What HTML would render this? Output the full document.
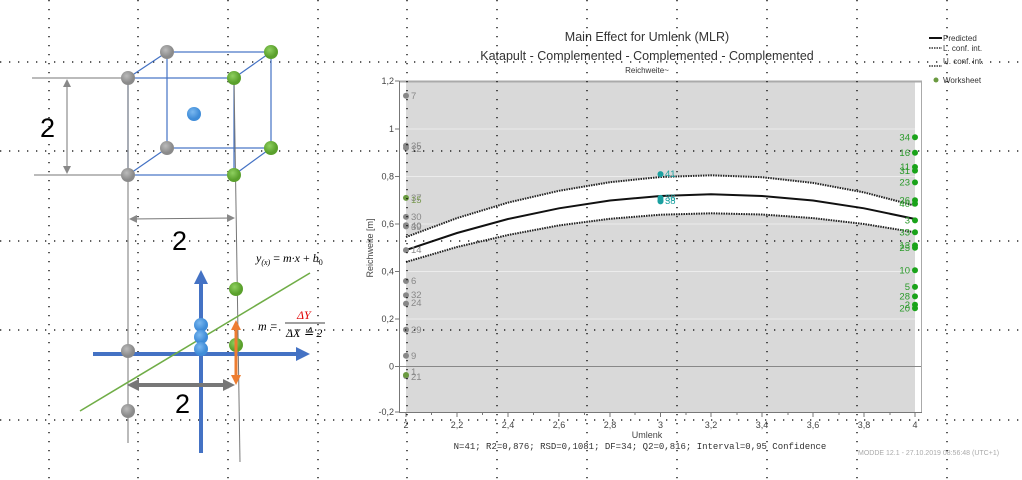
<!DOCTYPE html>
<html><head><meta charset="utf-8"><style>
html,body{margin:0;padding:0;background:#fff;width:1022px;height:480px;overflow:hidden}
svg{display:block;font-family:"Liberation Sans",sans-serif}
</style></head><body>
<svg width="1022" height="480" viewBox="0 0 1022 480" xmlns="http://www.w3.org/2000/svg">
<defs>
<marker id="ag" markerWidth="8" markerHeight="8" refX="7" refY="4" orient="auto-start-reverse" markerUnits="userSpaceOnUse"><path d="M0,0 L8,4 L0,8 z" fill="#888"/></marker>
<marker id="ab" markerWidth="14" markerHeight="14" refX="4" refY="7" orient="auto" markerUnits="userSpaceOnUse"><path d="M0,0 L14,7 L0,14 z" fill="#4472c4"/></marker>
<marker id="ao" markerWidth="10" markerHeight="10" refX="6" refY="5" orient="auto-start-reverse" markerUnits="userSpaceOnUse"><path d="M0,0 L10,5 L0,10 z" fill="#ed7d31"/></marker>
<marker id="ag2" markerWidth="12" markerHeight="12" refX="6" refY="6" orient="auto-start-reverse" markerUnits="userSpaceOnUse"><path d="M0,0 L12,6 L0,12 z" fill="#777"/></marker>
<radialGradient id="gg" cx="40%" cy="35%"><stop offset="0" stop-color="#bbb"/><stop offset="1" stop-color="#8a8a8a"/></radialGradient>
<radialGradient id="gn" cx="40%" cy="35%"><stop offset="0" stop-color="#8fd060"/><stop offset="1" stop-color="#5aa02c"/></radialGradient>
<radialGradient id="bl" cx="40%" cy="35%"><stop offset="0" stop-color="#7ab8f0"/><stop offset="1" stop-color="#3f8cd8"/></radialGradient>
</defs>

<!-- chart -->
<rect x="406" y="82" width="509" height="330" fill="#d9d9d9"/>
<g stroke="#ececec" stroke-width="1">
<line x1="406" y1="129" x2="915" y2="129"/><line x1="406" y1="176.5" x2="915" y2="176.5"/>
<line x1="406" y1="224" x2="915" y2="224"/><line x1="406" y1="271.5" x2="915" y2="271.5"/>
<line x1="406" y1="319" x2="915" y2="319"/>
</g>
<line x1="399" y1="366.5" x2="922" y2="366.5" stroke="#888" stroke-width="1"/>
<line x1="399" y1="81.5" x2="922" y2="81.5" stroke="#aaa" stroke-width="2"/>
<line x1="921.5" y1="81" x2="921.5" y2="412" stroke="#aaa"/>
<line x1="399.5" y1="81" x2="399.5" y2="412" stroke="#777"/>
<line x1="399" y1="412.5" x2="922" y2="412.5" stroke="#777"/>
<!-- y ticks -->
<g stroke="#777"><line x1="395" y1="81" x2="399" y2="81"/><line x1="395" y1="129" x2="399" y2="129"/><line x1="395" y1="176.5" x2="399" y2="176.5"/><line x1="395" y1="224" x2="399" y2="224"/><line x1="395" y1="271.5" x2="399" y2="271.5"/><line x1="395" y1="319" x2="399" y2="319"/><line x1="395" y1="366.5" x2="399" y2="366.5"/><line x1="395" y1="412" x2="399" y2="412"/></g>
<g font-size="9" fill="#444" text-anchor="end">
<text x="394" y="84">1,2</text><text x="394" y="132">1</text><text x="394" y="179.5">0,8</text><text x="394" y="227">0,6</text><text x="394" y="274.5">0,4</text><text x="394" y="322">0,2</text><text x="394" y="369.5">0</text><text x="394" y="415">-0,2</text>
</g>
<!-- x ticks -->
<g stroke="#777">
<line x1="406" y1="412" x2="406" y2="417"/><line x1="457" y1="412" x2="457" y2="417"/><line x1="508" y1="412" x2="508" y2="417"/><line x1="559" y1="412" x2="559" y2="417"/><line x1="610" y1="412" x2="610" y2="417"/><line x1="660.5" y1="412" x2="660.5" y2="417"/><line x1="711" y1="412" x2="711" y2="417"/><line x1="762" y1="412" x2="762" y2="417"/><line x1="813" y1="412" x2="813" y2="417"/><line x1="864" y1="412" x2="864" y2="417"/><line x1="915" y1="412" x2="915" y2="417"/>
<line x1="431.5" y1="412" x2="431.5" y2="415"/><line x1="482.5" y1="412" x2="482.5" y2="415"/><line x1="533.5" y1="412" x2="533.5" y2="415"/><line x1="584.5" y1="412" x2="584.5" y2="415"/><line x1="635" y1="412" x2="635" y2="415"/><line x1="686" y1="412" x2="686" y2="415"/><line x1="737" y1="412" x2="737" y2="415"/><line x1="788" y1="412" x2="788" y2="415"/><line x1="839" y1="412" x2="839" y2="415"/><line x1="890" y1="412" x2="890" y2="415"/>
</g>
<g font-size="9" fill="#444" text-anchor="middle">
<text x="406" y="428">2</text><text x="457" y="428">2,2</text><text x="508" y="428">2,4</text><text x="559" y="428">2,6</text><text x="610" y="428">2,8</text><text x="660.5" y="428">3</text><text x="711" y="428">3,2</text><text x="762" y="428">3,4</text><text x="813" y="428">3,6</text><text x="864" y="428">3,8</text><text x="915" y="428">4</text>
</g>
<text x="647" y="438" font-size="9" fill="#444" text-anchor="middle">Umlenk</text>
<text x="640" y="449" font-size="9" fill="#333" text-anchor="middle" font-family="Liberation Mono,monospace">N=41; R2=0,876; RSD=0,1081; DF=34; Q2=0,816; Interval=0,95 Confidence</text>
<text x="858" y="455" font-size="7" fill="#aaa">MODDE 12.1 - 27.10.2019 08:56:48 (UTC+1)</text>
<text transform="translate(373,248) rotate(-90)" font-size="9" fill="#444" text-anchor="middle">Reichweite [m]</text>
<text x="647" y="41" font-size="12.5" fill="#333" text-anchor="middle">Main Effect for Umlenk (MLR)</text>
<text x="647" y="60" font-size="12.5" fill="#333" text-anchor="middle">Katapult - Complemented - Complemented - Complemented</text>
<text x="647" y="73" font-size="8" fill="#333" text-anchor="middle">Reichweite~</text>

<!-- band -->
<polygon fill="#fff" points="406,237.1 457,218.1 508,202.6 559,190.8 610,182.2 660.5,177 711,175.3 762,177.2 813,182.9 864,192.4 915,205.7 915,232.3 864,224 813,218.1 762,214.5 711,213.3 660.5,214.7 610,218.8 559,225.4 508,235 457,247 406,262"/>
<polyline fill="none" stroke="#222" stroke-width="2" stroke-dasharray="1.5,1" points="406,237.1 457,218.1 508,202.6 559,190.8 610,182.2 660.5,177 711,175.3 762,177.2 813,182.9 864,192.4 915,205.7"/>
<polyline fill="none" stroke="#222" stroke-width="2" stroke-dasharray="1.5,1" points="406,262 457,247 508,235 559,225.4 610,218.8 660.5,214.7 711,213.3 762,214.5 813,218.1 864,224 915,232.3"/>
<polyline fill="none" stroke="#111" stroke-width="2" points="406,250.1 457,233 508,219 559,208.3 610,200.5 660.5,196 711,194.3 762,196 813,200.5 864,208.3 915,219"/>

<!-- points left -->
<g fill="#888"><circle cx="406" cy="95.8" r="3"/><circle cx="406" cy="145.6" r="3"/><circle cx="406" cy="148" r="3"/><circle cx="406" cy="216.9" r="3"/><circle cx="406" cy="225.2" r="3"/><circle cx="406" cy="226.4" r="3"/><circle cx="406" cy="250.1" r="3"/><circle cx="406" cy="281" r="3"/><circle cx="406" cy="295.3" r="3"/><circle cx="406" cy="303.6" r="3"/><circle cx="406" cy="329.7" r="3"/><circle cx="406" cy="355.8" r="3"/><circle cx="406" cy="376" r="3"/></g>
<g fill="#6a9a40"><circle cx="406" cy="197.9" r="3"/><circle cx="406" cy="375" r="3"/></g>
<g font-size="9.5" fill="#888">
<text x="411" y="99">7</text><text x="411" y="149">35</text><text x="411" y="152">12</text><text x="411" y="201">37</text><text x="411" y="203" fill="#7a9a50">15</text><text x="411" y="220">30</text><text x="411" y="229">40</text><text x="411" y="230">39</text><text x="411" y="253">14</text><text x="411" y="284">6</text><text x="411" y="298">32</text><text x="411" y="306">24</text><text x="411" y="333">29</text><text x="411" y="359">9</text><text x="411" y="375">1</text><text x="411" y="380">21</text>
</g>
<!-- middle -->
<g fill="#1aa0a0"><circle cx="660.5" cy="174.1" r="3"/><circle cx="660.5" cy="197.9" r="3"/><circle cx="660.5" cy="200.3" r="3"/><circle cx="660.5" cy="201.4" r="3"/></g>
<g font-size="9.5" fill="#1aa0a0"><text x="665" y="177">41</text><text x="665" y="201">36</text><text x="665" y="204">38</text></g>
<!-- right -->
<g fill="#1aa31a"><circle cx="915" cy="137.3" r="3"/><circle cx="915" cy="152.8" r="3"/><circle cx="915" cy="167" r="3"/><circle cx="915" cy="170.6" r="3"/><circle cx="915" cy="182.4" r="3"/><circle cx="915" cy="200.3" r="3"/><circle cx="915" cy="203.8" r="3"/><circle cx="915" cy="220.4" r="3"/><circle cx="915" cy="232.3" r="3"/><circle cx="915" cy="245.4" r="3"/><circle cx="915" cy="247.8" r="3"/><circle cx="915" cy="270.3" r="3"/><circle cx="915" cy="286.9" r="3"/><circle cx="915" cy="296.4" r="3"/><circle cx="915" cy="304.8" r="3"/><circle cx="915" cy="308.3" r="3"/></g>
<g font-size="9.5" fill="#2a9a2a" text-anchor="end">
<text x="910" y="140.5">34</text><text x="910" y="156">16</text><text x="910" y="170">11</text><text x="910" y="174">31</text><text x="910" y="185.5">23</text><text x="910" y="203.5">26</text><text x="910" y="207">40</text><text x="910" y="223.5">3</text><text x="910" y="235.5">33</text><text x="910" y="248.5">13</text><text x="910" y="251">25</text><text x="910" y="273.5">10</text><text x="910" y="290">5</text><text x="910" y="299.5">28</text><text x="910" y="308">2</text><text x="910" y="311.5">20</text>
</g>

<!-- legend -->
<line x1="929" y1="38" x2="942" y2="38" stroke="#111" stroke-width="2"/>
<text x="943" y="41" font-size="8" fill="#333">Predicted</text>
<line x1="929" y1="48" x2="942" y2="48" stroke="#333" stroke-width="1.5" stroke-dasharray="1.5,1"/>
<text x="943" y="51" font-size="8" fill="#333">L. conf. int.</text>
<line x1="929" y1="66" x2="942" y2="66" stroke="#333" stroke-width="1.5" stroke-dasharray="1.5,1"/>
<text x="943" y="64" font-size="8" fill="#333">U. conf. int.</text>
<circle cx="936" cy="80" r="2.5" fill="#6a9a40"/>
<text x="943" y="83" font-size="8" fill="#333">Worksheet</text>

<!-- dotted grid overlay -->
<g stroke="#000" stroke-width="1.3" stroke-dasharray="1.3,7.7">
<line x1="49" y1="0" x2="49" y2="480"/><line x1="138" y1="0" x2="138" y2="480"/><line x1="228" y1="0" x2="228" y2="480"/><line x1="318" y1="0" x2="318" y2="480"/><line x1="407" y1="0" x2="407" y2="480"/><line x1="497" y1="0" x2="497" y2="480"/><line x1="587" y1="0" x2="587" y2="480"/><line x1="677" y1="0" x2="677" y2="480"/><line x1="767" y1="0" x2="767" y2="480"/><line x1="857" y1="0" x2="857" y2="480"/><line x1="947" y1="0" x2="947" y2="480"/>
<line x1="0" y1="62" x2="1022" y2="62"/><line x1="0" y1="151" x2="1022" y2="151"/><line x1="0" y1="241" x2="1022" y2="241"/><line x1="0" y1="330" x2="1022" y2="330"/><line x1="0" y1="420" x2="1022" y2="420"/>
</g>

<!-- left diagram -->
<g stroke="#4472c4" stroke-width="1.2" fill="none">
<rect x="128" y="78" width="106" height="97"/>
<rect x="167" y="52" width="104" height="96"/>
<line x1="128" y1="78" x2="167" y2="52"/><line x1="234" y1="78" x2="271" y2="52"/><line x1="128" y1="175" x2="167" y2="148"/><line x1="234" y1="175" x2="271" y2="148"/>
</g>
<g stroke="#777" stroke-width="1">
<line x1="32" y1="78" x2="128" y2="78"/><line x1="34" y1="175" x2="128" y2="175"/>
<line x1="128" y1="78" x2="128" y2="443"/><line x1="234" y1="78" x2="240" y2="462"/>
<line x1="67" y1="80" x2="67" y2="173" marker-start="url(#ag)" marker-end="url(#ag)"/>
<line x1="130" y1="219" x2="234" y2="218" marker-start="url(#ag)" marker-end="url(#ag)"/>
</g>
<text x="40" y="137" font-size="27" fill="#000">2</text>
<text x="172" y="250" font-size="27" fill="#000">2</text>
<text x="175" y="413" font-size="27" fill="#000">2</text>
<circle cx="167" cy="52" r="7" fill="url(#gg)"/><circle cx="271" cy="52" r="7" fill="url(#gn)"/>
<circle cx="128" cy="78" r="7" fill="url(#gg)"/><circle cx="234" cy="78" r="7" fill="url(#gn)"/>
<circle cx="194" cy="114" r="7" fill="url(#bl)"/>
<circle cx="167" cy="148" r="7" fill="url(#gg)"/><circle cx="271" cy="148" r="7" fill="url(#gn)"/>
<circle cx="128" cy="175" r="7" fill="url(#gg)"/><circle cx="234" cy="175" r="7" fill="url(#gn)"/>
<!-- blue axes -->
<line x1="93" y1="354" x2="300" y2="354" stroke="#4472c4" stroke-width="4" marker-end="url(#ab)"/>
<line x1="201" y1="453" x2="201" y2="280" stroke="#4472c4" stroke-width="4" marker-end="url(#ab)"/>
<line x1="80" y1="411" x2="310" y2="273" stroke="#70ad47" stroke-width="1.6"/>
<circle cx="236" cy="289" r="7" fill="url(#gn)"/><circle cx="236" cy="345" r="7" fill="url(#gn)"/>
<circle cx="201" cy="325" r="7" fill="url(#bl)"/><circle cx="201" cy="337" r="7" fill="url(#bl)"/><circle cx="201" cy="349" r="7" fill="url(#bl)"/>
<circle cx="128" cy="351" r="7" fill="url(#gg)"/><circle cx="128" cy="411" r="7" fill="url(#gg)"/>
<line x1="236" y1="324" x2="236" y2="381" stroke="#ed7d31" stroke-width="3" marker-start="url(#ao)" marker-end="url(#ao)"/>
<line x1="133" y1="385" x2="229" y2="385" stroke="#777" stroke-width="4" marker-start="url(#ag2)" marker-end="url(#ag2)"/>
<text x="256" y="262" font-size="12" font-family="Liberation Serif,serif" font-style="italic" fill="#000">y<tspan font-size="8" dy="3">(x)</tspan><tspan dy="-3" font-style="normal"> = </tspan>m·x<tspan font-style="normal"> + </tspan>b<tspan font-size="8" dy="3" font-style="normal">0</tspan></text>
<text x="258" y="330" font-size="12" font-family="Liberation Serif,serif" font-style="italic" fill="#000">m =</text>
<text x="297" y="319" font-size="12" font-family="Liberation Serif,serif" font-style="italic" fill="#e00000">ΔY</text>
<line x1="285" y1="323" x2="325" y2="323" stroke="#000" stroke-width="0.8"/>
<text x="286" y="337" font-size="12" font-family="Liberation Serif,serif" font-style="italic" fill="#000">ΔX ≙ 2</text>
</svg>
</body></html>
